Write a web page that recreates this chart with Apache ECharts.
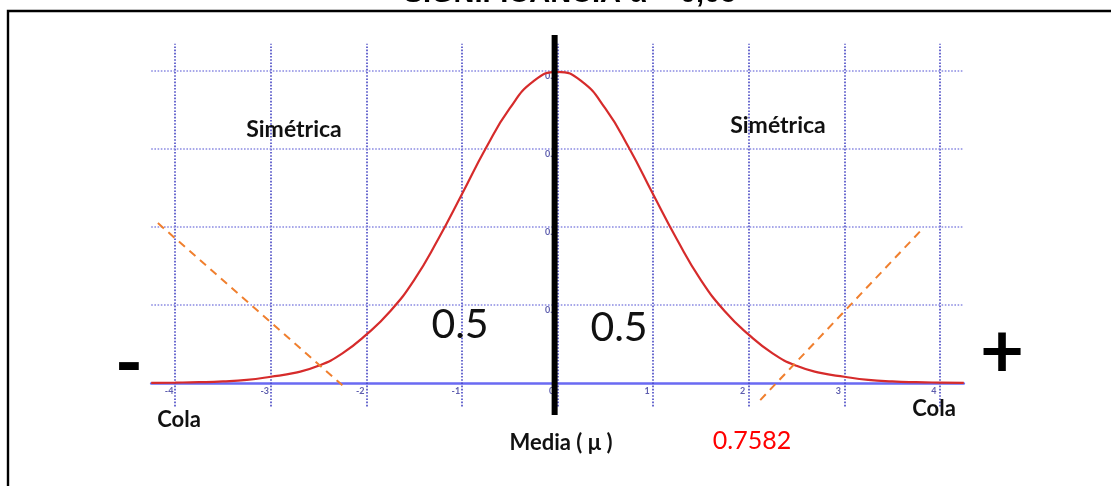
<!DOCTYPE html>
<html><head><meta charset="utf-8">
<script src="https://cdn.jsdelivr.net/npm/echarts@6/dist/echarts.min.js"></script>
<style>html,body{margin:0;padding:0;background:#fff}#c{width:1111px;height:486px}</style>
</head><body><div id="c"></div>
<script>
// ---- data ----
const titleText = 'SIGNIFICANCIA α = 0,05';
const xTicks = [-4, -3, -2, -1, 0, 1, 2, 3, 4];
const yTicks = [0.1, 0.2, 0.3, 0.4];
const curveX = [-4.25, -4, -3.75, -3.5, -3.25, -3, -2.75, -2.5, -2.25, -2, -1.75, -1.5, -1.25, -1, -0.75, -0.5, -0.25, 0,
                0.25, 0.5, 0.75, 1, 1.25, 1.5, 1.75, 2, 2.25, 2.5, 2.75, 3, 3.25, 3.5, 3.75, 4, 4.25];
const curveY = [0.0002, 0.0005, 0.001, 0.002, 0.004, 0.008, 0.013, 0.022, 0.038, 0.062, 0.092, 0.132, 0.184, 0.242, 0.301, 0.352, 0.387, 0.399,
                0.387, 0.352, 0.301, 0.242, 0.184, 0.132, 0.092, 0.062, 0.038, 0.022, 0.013, 0.008, 0.004, 0.002, 0.001, 0.0005, 0.0002];
const meanLine = [[-0.03, 0.446], [-0.03, -0.041]];
const leftDash = [[-4.18, 0.205], [-2.25, -0.003]];
const rightDash = [[3.79, 0.194], [2.12, -0.022]];
const sideText = 'Simétrica';
const halfText = '0.5';
const tailText = 'Cola';
const meanText = 'Media ( μ )';
const pValueText = '0.7582';
const minusText = '-';
const plusText = '+';

// ---- chart ----
const chart = echarts.init(document.getElementById('c'), null, {renderer: 'canvas'});
const curve = curveX.map((x, i) => [x, curveY[i]]);
const F = 'Lato, "Noto Sans", sans-serif';
const tickColor = '#34349a';

function txt(text, x, y, font, fill) {
  return {type: 'text', x: x, y: y, z: 100,
    style: {text: text, font: font, fill: fill || '#111', align: 'center', verticalAlign: 'middle'}};
}

chart.setOption({
  animation: false,
  backgroundColor: '#fff',
  grid: {left: 151.2, right: 147.2, top: 43.7, bottom: 79.6, containLabel: false},
  xAxis: {
    type: 'value', min: -4.25, max: 4.25,
    axisLine: {show: true, onZero: true, lineStyle: {color: '#6a6af2', width: 2.5}},
    axisTick: {show: false},
    splitLine: {show: false},
    axisLabel: {show: false}
  },
  yAxis: {
    type: 'value', min: -0.03, max: 0.435,
    axisLine: {show: false},
    axisTick: {show: false},
    splitLine: {show: false},
    axisLabel: {show: false}
  },
  series: [
    {
      type: 'line', data: [], silent: true,
      markLine: {
        silent: true, symbol: 'none', label: {show: false},
        lineStyle: {type: 'dotted', color: '#4646c4', width: 1.6},
        data: xTicks.map(v => ({xAxis: v}))
      }
    },
    {
      type: 'line', data: [], silent: true,
      markLine: {
        silent: true, symbol: 'none', label: {show: false},
        lineStyle: {type: 'dotted', color: '#8a8ae2', width: 1.6},
        data: yTicks.map(v => ({yAxis: v}))
      }
    },
    {
      type: 'scatter', silent: true, z: 3, symbolSize: 0,
      data: xTicks.map(v => [v, 0]),
      label: {show: true, position: 'bottom', distance: 4, offset: [-6, 0],
        formatter: p => String(p.value[0]),
        fontSize: 9, fontWeight: 'bold', color: tickColor, fontFamily: F}
    },
    {
      type: 'scatter', silent: true, z: 3, symbolSize: 0,
      data: yTicks.map(v => [0, v]),
      label: {show: true, position: 'left', distance: 0, offset: [0, 5],
        formatter: p => String(p.value[1]),
        fontSize: 9, fontWeight: 'bold', color: tickColor, fontFamily: F}
    },
    {
      type: 'line', data: curve, smooth: true, showSymbol: false, clip: false, z: 5,
      lineStyle: {color: '#d62b2b', width: 2.2}
    },
    {
      type: 'line', data: leftDash, showSymbol: false, clip: false, z: 6,
      lineStyle: {color: '#f07f2e', width: 2, type: [8, 6]}
    },
    {
      type: 'line', data: rightDash, showSymbol: false, clip: false, z: 6,
      lineStyle: {color: '#f07f2e', width: 2, type: [8, 6]}
    },
    {
      type: 'line', data: meanLine, showSymbol: false, clip: false, z: 8,
      lineStyle: {color: '#000', width: 6, cap: 'butt'}
    }
  ],
  graphic: [
    {type: 'rect', z: 100, shape: {x: 8, y: 11, width: 1200, height: 600},
      style: {fill: null, stroke: '#000', lineWidth: 2.4}},
    txt(titleText, 570, -6, 'bold 29px "Liberation Sans", Arial, sans-serif', '#000'),
    txt(sideText, 294, 130, 'bold 23px ' + F),
    txt(sideText, 778, 126, 'bold 23px ' + F),
    txt(halfText, 460, 325, '41px ' + F),
    txt(halfText, 619, 328, '41px ' + F),
    txt(tailText, 179, 420, 'bold 22px ' + F),
    txt(tailText, 934, 409, 'bold 22px ' + F),
    txt(meanText, 561, 443, 'bold 22px ' + F),
    txt(pValueText, 752, 441, '25px ' + F, '#ff0000'),
    txt(minusText, 129, 364, 'bold 76px ' + F, '#000'),
    txt(plusText, 1002, 352, 'bold 76px ' + F, '#000')
  ]
});
</script>
</body></html>
